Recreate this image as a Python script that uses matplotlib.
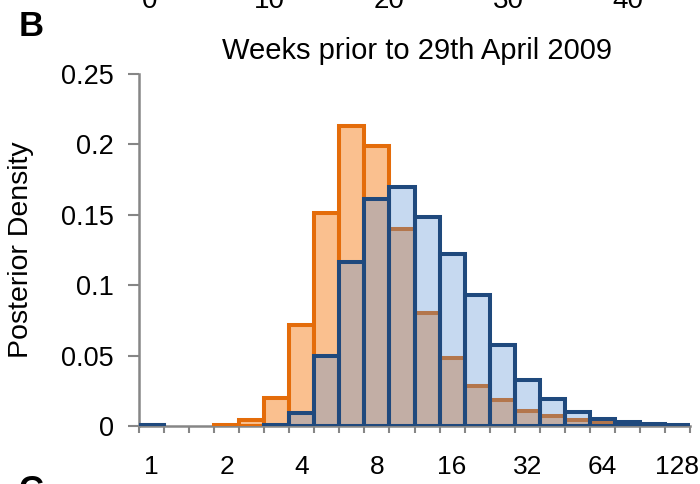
import matplotlib
matplotlib.use("Agg")
import matplotlib.pyplot as plt
import numpy as np

plt.rcParams['font.family'] = ['Liberation Sans', 'DejaVu Sans']

# 22 log-spaced bins (factor 2^(1/3)), labelled every third bin
bin_labels = ["1", "2", "4", "8", "16", "32", "64", "128"]
orange_vals = [0.001, 0, 0, 0.001, 0.0043, 0.020, 0.072, 0.151, 0.213, 0.199,
               0.1397, 0.080, 0.048, 0.0284, 0.0185, 0.0107, 0.0071, 0.004,
               0.0026, 0.001, 0.0008, 0]
blue_vals = [0.001, 0, 0, 0, 0, 0.001, 0.009, 0.050, 0.1165, 0.1615,
             0.1695, 0.1487, 0.122, 0.093, 0.0575, 0.0327, 0.019, 0.010,
             0.005, 0.003, 0.0015, 0.0008]
top_labels = ["0", "10", "20", "30", "40"]
y_ticks = [0, 0.05, 0.1, 0.15, 0.2, 0.25]
y_ticklabels = ["0", "0.05", "0.1", "0.15", "0.2", "0.25"]

ORANGE_EDGE = "#E46C0A"
ORANGE_FILL = "#FAC08F"
BLUE_EDGE = "#1F497D"
BLUE_FILL = (0.32, 0.55, 0.83, 0.33)
GREY = "#868686"

fig = plt.figure(figsize=(7, 4.84), dpi=100)
ax = fig.add_axes([139 / 700, 1 - 426 / 484, 551 / 700, 352 / 484])

x = np.arange(len(orange_vals))
o = np.array(orange_vals)
b = np.array(blue_vals)
mo = o > 0
mb = b > 0
ax.bar(x[mo], o[mo], width=1.0, align="edge", color=ORANGE_FILL,
       edgecolor=ORANGE_EDGE, linewidth=2.9, zorder=2)
ax.bar(x[mb], b[mb], width=1.0, align="edge", color=BLUE_FILL,
       edgecolor=BLUE_EDGE, linewidth=2.9, zorder=3)

ax.set_xlim(0, len(orange_vals))
ax.set_ylim(0, 0.25)

# tick marks at bin edges, labels at every third bin centre
ax.set_xticks(np.arange(len(orange_vals) + 1))
ax.set_xticklabels([])
ax.tick_params(axis="x", which="major", length=5, width=1.5, color=GREY, direction="out")
ax.set_xticks(np.arange(0, len(orange_vals), 3) + 0.5, bin_labels, minor=True)
ax.tick_params(axis="x", which="minor", length=0, pad=21, labelsize=19)

ax.set_yticks(y_ticks, y_ticklabels)
ax.tick_params(axis="y", length=8, width=1.5, color=GREY, direction="out",
               labelsize=19.5, pad=10)

for s in ["top", "right"]:
    ax.spines[s].set_visible(False)
for s in ["left", "bottom"]:
    ax.spines[s].set_color(GREY)
    ax.spines[s].set_linewidth(1.8)
    ax.spines[s].set_zorder(1)

ax.set_ylabel("Posterior Density", fontsize=20.5)
ax.yaxis.set_label_coords((34 - 139) / 551, 0.5)

fig.text(417 / 700, 1 - 51 / 484, "Weeks prior to 29th April 2009",
         ha="center", va="center", fontsize=21)
fig.text(19 / 700, 1 - 27 / 484, "B", ha="left", va="center",
         fontsize=25, fontweight="bold")
fig.text(19 / 700, 1 - 474 / 484, "C", ha="left", va="top",
         fontsize=25, fontweight="bold")

# tick labels of the panel above, clipped at the top edge
for i, lab in enumerate(top_labels):
    fig.text((150 + 119.5 * i) / 700, 1 - 8 / 484, lab, ha="center",
             va="baseline", fontsize=20)

fig.savefig("out.png", dpi=100)
